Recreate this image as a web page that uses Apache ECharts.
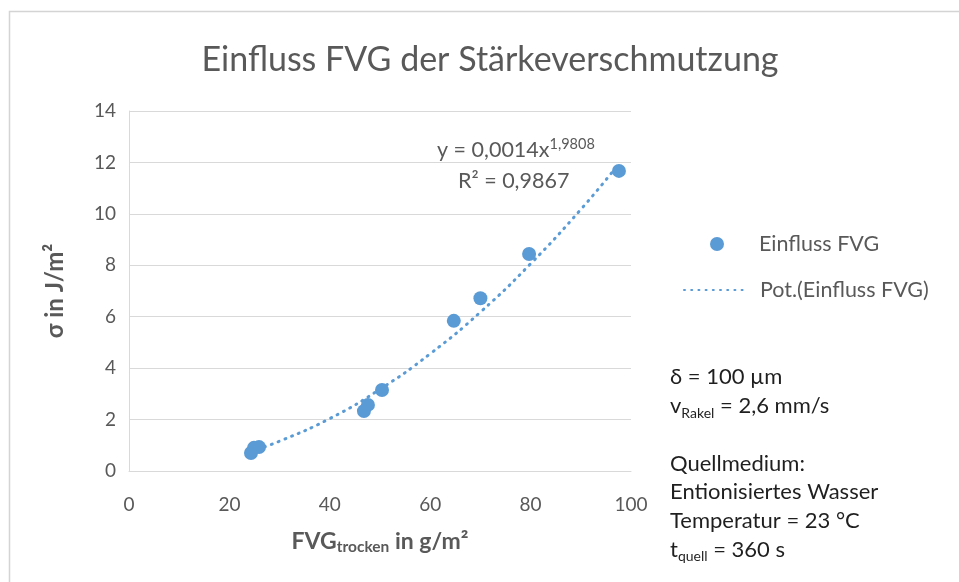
<!DOCTYPE html>
<html>
<head>
<meta charset="utf-8">
<script src="https://cdn.jsdelivr.net/npm/echarts@6/dist/echarts.min.js"></script>
<style>html,body{margin:0;padding:0;background:#fff;}#c{width:959px;height:582px;}</style>
</head>
<body>
<div id="c"></div>
<script>
// ---- data ----
const fvgTrocken = [24.3, 24.9, 25.9, 46.8, 47.6, 50.4, 64.7, 70.0, 79.7, 97.6];
const sigma      = [0.70, 0.90, 0.93, 2.33, 2.57, 3.15, 5.84, 6.72, 8.44, 11.67];
// dotted power trendline
const trendX = [24.3, 30, 40, 50, 60, 70, 80, 90, 97.6];
const trendY = [0.76, 1.16, 2.04, 3.18, 4.56, 6.18, 8.06, 10.17, 11.95];
const xTicks = [0, 20, 40, 60, 80, 100];
const yTicks = [0, 2, 4, 6, 8, 10, 12, 14];
const seriesNames = ['Einfluss FVG', 'Pot.(Einfluss FVG)'];
const titleText = 'Einfluss FVG der Stärkeverschmutzung';

const FONT = 'Lato, "Open Sans", sans-serif';
const GREY = '#595959';
const BLUE = '#5b9bd5';

const scatterData = fvgTrocken.map((x, i) => [x, sigma[i]]);
const trendData = trendX.map((x, i) => [x, trendY[i]]);

const chart = echarts.init(document.getElementById('c'), null, {renderer: 'canvas'});
chart.setOption({
  backgroundColor: '#fff',
  animation: false,
  title: {
    text: titleText,
    left: 485,
    textAlign: 'center',
    top: 38,
    textStyle: {fontFamily: FONT, fontSize: 34, fontWeight: 'normal', color: GREY}
  },
  grid: {left: 129, right: 328, top: 111, bottom: 111, containLabel: false},
  xAxis: {
    type: 'value', min: xTicks[0], max: xTicks[xTicks.length - 1], interval: 20,
    axisLine: {show: true, lineStyle: {color: '#d9d9d9', width: 1}},
    axisTick: {show: false},
    splitLine: {show: false},
    axisLabel: {margin: 24, fontFamily: FONT, fontSize: 19, color: GREY},
    name: '{b|FVG}{s|trocken}{b| in g/m²}',
    nameLocation: 'middle', nameGap: 57,
    nameTextStyle: {
      rich: {
        b: {fontFamily: FONT, fontSize: 23, fontWeight: 'bold', color: GREY, lineHeight: 27},
        s: {fontFamily: FONT, fontSize: 15.5, fontWeight: 'bold', color: GREY, lineHeight: 16, verticalAlign: 'bottom'}
      }
    }
  },
  yAxis: {
    type: 'value', min: yTicks[0], max: yTicks[yTicks.length - 1], interval: 2,
    axisLine: {show: true, lineStyle: {color: '#d9d9d9', width: 1}},
    axisTick: {show: false},
    splitLine: {show: true, lineStyle: {color: '#d9d9d9', width: 1}},
    axisLabel: {margin: 13, fontFamily: FONT, fontSize: 19, color: GREY},
    name: 'σ in J/m²',
    nameLocation: 'middle', nameGap: 62, nameRotate: 90,
    nameTextStyle: {fontFamily: FONT, fontSize: 24, fontWeight: 'bold', color: GREY}
  },
  legend: [
    {
      data: [seriesNames[0]], orient: 'vertical', left: 710, top: 233, padding: 0,
      itemWidth: 64, itemHeight: 14, icon: 'circle',
      textStyle: {fontFamily: FONT, fontSize: 21.5, color: GREY, padding: [0, 0, 0, 5]}
    },
    {
      data: [seriesNames[1]], orient: 'vertical', left: 683, top: 279, padding: 0,
      itemWidth: 64, itemHeight: 14,
      itemStyle: {color: 'rgba(0,0,0,0)', borderColor: 'rgba(0,0,0,0)', borderWidth: 0, opacity: 0},
      textStyle: {fontFamily: FONT, fontSize: 21.5, color: GREY, padding: [0, 0, 0, 7]}
    }
  ],
  graphic: [
    {
      type: 'rect', silent: true, z: -10,
      shape: {x: 9.5, y: 11.5, width: 1000, height: 700},
      style: {fill: null, stroke: '#d4d4d4', lineWidth: 1.5}
    },
    {
      type: 'text', silent: true, x: 437, y: 137,
      style: {
        text: 'y = 0,0014x{sup|1,9808}',
        font: '21.5px ' + FONT, fill: GREY, lineHeight: 26,
        rich: {sup: {fontFamily: FONT, fontSize: 14.5, fill: GREY, lineHeight: 14, verticalAlign: 'top'}}
      }
    },
    {
      type: 'text', silent: true, x: 458, y: 168,
      style: {text: 'R² = 0,9867', font: '21.5px ' + FONT, fill: GREY, lineHeight: 26}
    },
    {
      type: 'text', silent: true, x: 670, y: 363,
      style: {
        text: 'δ = 100 µm\nv{sub|Rakel} = 2,6 mm/s\n\nQuellmedium:\nEntionisiertes Wasser\nTemperatur = 23 °C\nt{sub|quell} = 360 s',
        font: '22px ' + FONT, fill: '#1f1f1f', lineHeight: 28.7,
        rich: {sub: {fontFamily: FONT, fontSize: 14, fill: '#1f1f1f', lineHeight: 16, verticalAlign: 'bottom'}}
      }
    }
  ],
  series: [
    {
      name: seriesNames[0], type: 'scatter', data: scatterData,
      symbol: 'circle', symbolSize: 14,
      itemStyle: {color: BLUE, opacity: 1}, z: 3
    },
    {
      name: seriesNames[1], type: 'line', data: trendData,
      smooth: 0.5, showSymbol: false, symbol: 'none',
      lineStyle: {color: BLUE, width: 3, type: [1, 6.2], cap: 'round'},
      itemStyle: {color: BLUE}, z: 2
    }
  ]
});
</script>
</body>
</html>
